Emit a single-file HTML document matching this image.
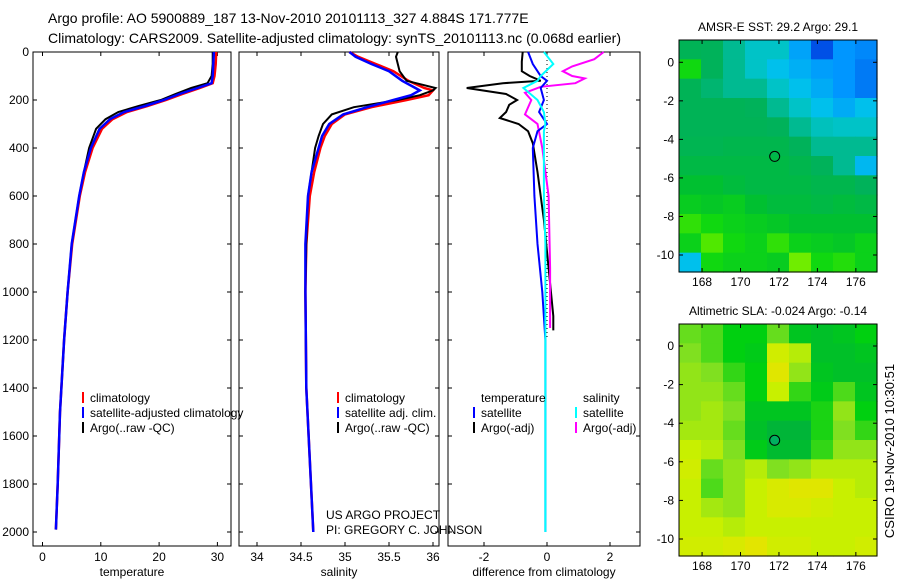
<!DOCTYPE html>
<html><head><meta charset="utf-8"><style>
body{margin:0;background:#fff;}
svg{display:block;font-family:"Liberation Sans",sans-serif;}
text{fill:#000;}
</style></head><body>
<svg id="chart" width="900" height="580" viewBox="0 0 900 580">
<text x="48" y="23" font-size="14">Argo profile: AO 5900889_187 13-Nov-2010 20101113_327 4.884S 171.777E</text>
<text x="48" y="43" font-size="14">Climatology: CARS2009. Satellite-adjusted climatology: synTS_20101113.nc (0.068d earlier)</text>
<g id="plots"></g>
</svg>
<script>
// ---------- data ----------
const depthTicks=[0,200,400,600,800,1000,1200,1400,1600,1800,2000];
const tempTicks=[0,10,20,30];
const salTicks=[34,34.5,35,35.5,36];
const diffTicks=[-2,0,2];
const tDepth=[0,50,100,130,150,175,200,225,250,280,320,400,500,600,800,1000,1200,1500,1800,1990];
const tClim=[29.8,29.7,29.5,29.2,27,24,21.2,18,14.5,12,10.2,8.6,7.3,6.4,5.1,4.3,3.7,3.0,2.6,2.3];
const tSat=[29.4,29.3,29.2,29.0,26.6,23.5,20.8,17.6,14,11.6,9.8,8.3,7.1,6.3,5.0,4.3,3.7,3.0,2.6,2.3];
const tArgo=[29.2,29.2,29.0,28.3,25.5,22.8,20.3,16.5,13,10.8,9.2,8.0,7.1,6.3,5.0,4.3,3.7,3.0,2.6,2.3];
const sDepth=[0,20,50,80,120,150,160,180,200,230,260,300,350,400,500,600,800,1000,1400,1700,2000];
const sClim=[35.05,35.15,35.35,35.55,35.72,35.9,36.0,35.95,35.7,35.3,35.0,34.85,34.77,34.72,34.65,34.6,34.56,34.55,34.56,34.6,34.64];
const sSat=[35.05,35.12,35.3,35.5,35.65,35.8,35.85,35.75,35.55,35.25,34.98,34.82,34.74,34.7,34.62,34.58,34.55,34.55,34.56,34.6,34.64];
const sArgo=[35.6,35.58,35.6,35.62,35.7,36.03,36.0,35.85,35.6,35.1,34.85,34.75,34.7,34.66,34.62,34.58,34.56,34.55,34.56];
const dDepthA=[0,40,80,100,120,130,150,175,200,220,250,275,300,330,380,500,700,900,1100,1160];
const dTempArgo=[-0.77,-0.8,-0.8,-0.55,-0.2,-1.4,-2.55,-1.3,-0.95,-1.2,-1.3,-1.5,-0.9,-0.6,-0.45,-0.3,-0.1,0.05,0.2,0.2];
const dDepthB=[0,50,100,120,150,200,250,300,330,400,600,800,1000,1200,1500,2000];
const dTempSat=[-0.6,-0.45,-0.2,0,-0.2,-0.1,-0.25,0,-0.3,-0.45,-0.4,-0.3,-0.15,-0.05,-0.05,-0.05];
const dSalSat=[-0.1,0.2,-0.2,-0.3,-0.75,-0.3,-0.1,-0.05,-0.1,-0.1,-0.1,-0.05,-0.05,-0.05,-0.05,-0.05];
const dDepthM=[0,30,60,80,100,110,130,145,170,200,260,300,400,600,900,1150];
const dSalArgo=[1.8,1.5,0.8,0.5,0.8,1.2,0.9,-0.2,-0.7,-0.5,-0.7,-0.3,-0.15,0.05,0.1,0.1];
const sstField=[
[0.56,0.55,0.5,0.45,0.45,0.33,0.2,0.3,0.28],
[0.75,0.55,0.5,0.45,0.4,0.36,0.32,0.3,0.26],
[0.56,0.53,0.5,0.5,0.45,0.4,0.35,0.3,0.26],
[0.56,0.56,0.56,0.55,0.5,0.45,0.4,0.35,0.4],
[0.56,0.56,0.56,0.56,0.55,0.5,0.46,0.45,0.45],
[0.57,0.57,0.58,0.58,0.58,0.55,0.5,0.5,0.5],
[0.6,0.6,0.6,0.6,0.6,0.58,0.55,0.5,0.38],
[0.65,0.65,0.62,0.6,0.6,0.6,0.58,0.58,0.55],
[0.7,0.68,0.7,0.65,0.62,0.62,0.6,0.62,0.6],
[0.8,0.75,0.72,0.7,0.68,0.65,0.65,0.65,0.65],
[0.72,0.85,0.75,0.72,0.8,0.72,0.7,0.68,0.72],
[0.4,0.75,0.72,0.72,0.7,0.88,0.75,0.78,0.72]];
const slaField=[
[0.5,0.45,0.3,0.3,0.5,0.2,0.15,0.2,0.3],
[0.55,0.45,0.3,0.25,0.8,0.7,0.15,0.15,0.2],
[0.6,0.55,0.4,0.3,0.9,0.6,0.2,0.15,0.15],
[0.6,0.6,0.5,0.3,0.75,0.4,0.25,0.45,0.2],
[0.6,0.65,0.55,0.2,0.2,0.2,0.35,0.6,0.3],
[0.65,0.65,0.5,0.15,0.05,0.05,0.35,0.55,0.4],
[0.75,0.7,0.55,0.25,0.1,0.1,0.4,0.6,0.6],
[0.8,0.5,0.6,0.7,0.55,0.6,0.7,0.7,0.7],
[0.75,0.45,0.6,0.75,0.85,0.9,0.9,0.75,0.7],
[0.75,0.65,0.6,0.75,0.85,0.85,0.8,0.75,0.75],
[0.75,0.75,0.7,0.75,0.75,0.75,0.75,0.75,0.75],
[0.8,0.8,0.85,0.92,0.8,0.8,0.75,0.75,0.8]];
const lonTicks=[168,170,172,174,176];
const latTicks=[0,-2,-4,-6,-8,-10];
const floatLon=171.777, floatLat=-4.884;

// ---------- helpers ----------
const NS="http://www.w3.org/2000/svg";
const root=document.getElementById('plots');
function mk(tag,attrs,parent){const e=document.createElementNS(NS,tag);for(const k in attrs)e.setAttribute(k,attrs[k]);(parent||root).appendChild(e);return e;}
const Y0=52, YB=546;
const yD=d=>Y0+d*0.24;
const panels=[
 {x0:33,x1:231,sx:v=>42.5+v*5.83,ticks:tempTicks,label:'temperature',name:'temperature-panel'},
 {x0:239,x1:439,sx:v=>257+(v-34)*88,ticks:salTicks,label:'salinity',name:'salinity-panel'},
 {x0:448,x1:640,sx:v=>547+v*31.5,ticks:diffTicks,label:'difference from climatology',name:'difference-panel'}];
panels.forEach((p,i)=>{
 const g=mk('g',{});
 
 
 const r=mk('rect',{x:p.x0,y:Y0,width:p.x1-p.x0,height:YB-Y0,fill:'none',stroke:'#000','stroke-width':1},g);
 
 
 depthTicks.forEach(d=>{
  mk('line',{x1:p.x0,x2:p.x0+4,y1:yD(d),y2:yD(d),stroke:'#000'},g);
  mk('line',{x1:p.x1,x2:p.x1-4,y1:yD(d),y2:yD(d),stroke:'#000'},g);
  if(i==0){const t=mk('text',{x:29,y:yD(d)+4,'font-size':12,'text-anchor':'end'},g);t.textContent=d;
   
   }
 });
 p.ticks.forEach(v=>{
  const x=p.sx(v);
  mk('line',{x1:x,x2:x,y1:Y0,y2:Y0+4,stroke:'#000'},g);
  mk('line',{x1:x,x2:x,y1:YB,y2:YB-4,stroke:'#000'},g);
  const t=mk('text',{x:x,y:561,'font-size':12,'text-anchor':'middle'},g);t.textContent=v;
  
  
 });
 const xl=mk('text',{x:(p.x0+p.x1)/2,y:576,'font-size':12,'text-anchor':'middle'},g);xl.textContent=p.label;
 
 
});
function line(depths,vals,sx,color,name,w){
 const pts=vals.map((v,i)=>sx(v).toFixed(1)+','+yD(depths[i]).toFixed(1)).join(' ');
 const e=mk('polyline',{points:pts,fill:'none',stroke:color,'stroke-width':w||2});
 
 
}
const P=panels;
line(tDepth,tClim,P[0].sx,'#f00','temp-climatology-line',2.5);
line(tDepth.slice(0,tArgo.length),tArgo,P[0].sx,'#000','temp-argo-line');
line(tDepth,tSat,P[0].sx,'#00f','temp-satellite-line',2.5);
line(sDepth,sClim,P[1].sx,'#f00','sal-climatology-line',2.5);
line(sDepth.slice(0,sArgo.length),sArgo,P[1].sx,'#000','sal-argo-line');
line(sDepth,sSat,P[1].sx,'#00f','sal-satellite-line',2.5);
const zl=mk('line',{x1:547,x2:547,y1:Y0,y2:yD(1200),stroke:'#000','stroke-dasharray':'1,3'});


line(dDepthA,dTempArgo,P[2].sx,'#000','diff-temp-argo-line');
line(dDepthM,dSalArgo,P[2].sx,'#f0f','diff-sal-argo-line');
line(dDepthB,dTempSat,P[2].sx,'#00f','diff-temp-satellite-line');
line(dDepthB,dSalSat,P[2].sx,'#0ff','diff-sal-satellite-line');

function legend(items){
 items.forEach(it=>{
  if(it.c){const m=mk('line',{x1:it.x-7,x2:it.x-7,y1:it.y-10,y2:it.y+1,stroke:it.c,'stroke-width':2});
   
   }
  const t=mk('text',{x:it.x,y:it.y,'font-size':12});t.textContent=it.t;
  
  
 });
}
legend([{x:90,y:402,t:'climatology',c:'#f00'},{x:90,y:417,t:'satellite-adjusted climatology',c:'#00f'},{x:90,y:432,t:'Argo(..raw -QC)',c:'#000'},
 {x:345,y:402,t:'climatology',c:'#f00'},{x:345,y:417,t:'satellite adj. clim.',c:'#00f'},{x:345,y:432,t:'Argo(..raw -QC)',c:'#000'},
 {x:481,y:402,t:'temperature'},{x:583,y:402,t:'salinity'},
 {x:481,y:417,t:'satellite',c:'#00f'},{x:481,y:432,t:'Argo(-adj)',c:'#000'},
 {x:583,y:417,t:'satellite',c:'#0ff'},{x:583,y:432,t:'Argo(-adj)',c:'#f0f'}]);
const c1=mk('text',{x:326,y:519,'font-size':12});c1.textContent='US ARGO PROJECT';


const c2=mk('text',{x:326,y:534,'font-size':12});c2.textContent='PI: GREGORY C. JOHNSON';



// ---------- maps ----------
function lerpStops(stops,v){
 v=Math.max(0,Math.min(1,v));
 for(let i=1;i<stops.length;i++){if(v<=stops[i][0]){const a=stops[i-1],b=stops[i],f=(v-a[0])/(b[0]-a[0]);
  return 'rgb('+[0,1,2].map(k=>Math.round(a[1][k]+(b[1][k]-a[1][k])*f)).join(',')+')';}}
 return 'rgb('+stops[stops.length-1][1].join(',')+')';
}
const sstStops=[[0,[0,0,128]],[0.2,[0,80,230]],[0.3,[0,150,255]],[0.42,[0,200,232]],[0.55,[0,178,90]],[0.65,[0,192,48]],[0.75,[16,216,16]],[0.85,[80,232,0]],[1,[240,255,0]]];
const slaStops=[[0,[0,176,64]],[0.3,[0,208,16]],[0.55,[128,224,32]],[0.75,[200,240,0]],[1,[240,224,0]]];
function drawMap(cfg){
 const g=mk('g',{});
 
 
 const lon0=166.8,lon1=177.1,x0=679,x1=877;
 const sx=l=>x0+(l-lon0)*(x1-x0)/(lon1-lon0);
 const sy=la=>cfg.y0lat+(-la)*cfg.ppd;
 const rows=cfg.field.length,cols=cfg.field[0].length;
 const cw=(x1-x0)/cols,ch=(cfg.yb-cfg.yt)/rows;
 cfg.field.forEach((row,r)=>row.forEach((v,c)=>{
  const e=mk('rect',{x:x0+c*cw,y:cfg.yt+r*ch,width:cw+0.6,height:ch+0.6,fill:lerpStops(cfg.stops,v)},g);
  
  
 }));
 mk('rect',{x:x0,y:cfg.yt,width:x1-x0,height:cfg.yb-cfg.yt,fill:'none',stroke:'#000'},g);
 lonTicks.forEach(l=>{const x=sx(l);mk('line',{x1:x,x2:x,y1:cfg.yb,y2:cfg.yb-4,stroke:'#000'},g);mk('line',{x1:x,x2:x,y1:cfg.yt,y2:cfg.yt+4,stroke:'#000'},g);
  const t=mk('text',{x:x,y:cfg.yb+14,'font-size':12,'text-anchor':'middle'},g);t.textContent=l;
  
  });
 latTicks.forEach(la=>{const y=sy(la);mk('line',{x1:x0,x2:x0+4,y1:y,y2:y,stroke:'#000'},g);mk('line',{x1:x1,x2:x1-4,y1:y,y2:y,stroke:'#000'},g);
  const t=mk('text',{x:674,y:y+4,'font-size':12,'text-anchor':'end'},g);t.textContent=la;
  
  });
 const ci=mk('circle',{cx:sx(floatLon),cy:sy(floatLat),r:5,fill:cfg.circleFill,stroke:'#000'},g);
 
 
 const t=mk('text',{x:778,y:cfg.yt-9,'font-size':12,'text-anchor':'middle'},g);t.textContent=cfg.title;
 
 
}
drawMap({name:'sst-map',field:sstField,stops:sstStops,yt:40,yb:272,y0lat:62.3,ppd:19.27,title:'AMSR-E SST: 29.2  Argo: 29.1',circleFill:'none'});
drawMap({name:'sla-map',field:slaField,stops:slaStops,yt:324,yb:556,y0lat:346,ppd:19.3,title:'Altimetric SLA: -0.024  Argo: -0.14',circleFill:'#00b060'});
const ts=mk('text',{x:0,y:0,'font-size':13,'text-anchor':'middle',transform:'translate(894,451) rotate(-90)'});
ts.textContent='CSIRO 19-Nov-2010 10:30:51';


</script>
</body></html>
